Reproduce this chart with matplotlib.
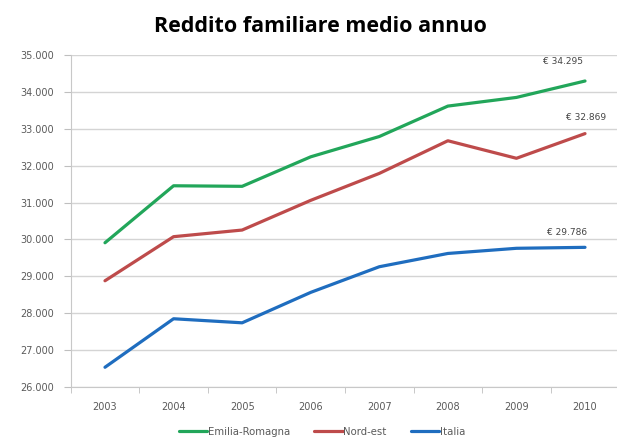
import matplotlib
matplotlib.use("Agg")
import matplotlib.pyplot as plt
from matplotlib.ticker import FuncFormatter, FixedLocator
import numpy as np

years = ["2003", "2004", "2005", "2006", "2007", "2008", "2009", "2010"]
emilia = [29910, 31455, 31440, 32240, 32790, 33615, 33850, 34295]
nordest = [28880, 30075, 30255, 31060, 31790, 32675, 32200, 32869]
italia = [26535, 27850, 27740, 28565, 29260, 29620, 29760, 29786]
series_names = ["Emilia-Romagna", "Nord-est", "Italia"]
colors = ["#22A65A", "#BE4B4B", "#1F6DBF"]
title = "Reddito familiare medio annuo"

fig = plt.figure(figsize=(6.17, 4.41), dpi=100)
ax = fig.add_axes([70.7/617, 54/441, 548.6/617, 332/441])

x = np.arange(len(years))
for vals, name, c in zip([emilia, nordest, italia], series_names, colors):
    ax.plot(x, vals, color=c, lw=2.3, label=name, solid_capstyle="round")

ax.set_xlim(-0.5, len(years) - 0.5)
ax.set_ylim(26000, 35000)
ax.set_yticks(np.arange(26000, 35001, 1000))
ax.yaxis.set_major_formatter(FuncFormatter(lambda v, p: f"{int(v):,}".replace(",", ".")))
ax.set_xticks(x)
ax.set_xticklabels(years)
ax.xaxis.set_minor_locator(FixedLocator(np.arange(-0.5, len(years), 1.0)))
ax.tick_params(axis="x", which="major", length=0, pad=11, labelsize=7, labelcolor="#5A5A5A")
ax.tick_params(axis="x", which="minor", length=4, color="#BFBFBF", direction="out")
ax.tick_params(axis="y", length=5, color="#BFBFBF", pad=7, labelsize=7, labelcolor="#5A5A5A")

ax.grid(axis="y", color="#D4D4D4", lw=1.0)
ax.set_axisbelow(True)
for s in ["top", "right"]:
    ax.spines[s].set_visible(False)
ax.spines["left"].set_color("#C8C8C8")
ax.spines["bottom"].set_color("#C8C8C8")

def fmt_eur(v):
    return "€ " + f"{v:,}".replace(",", ".")

ax.annotate(fmt_eur(emilia[-1]), (x[-1], emilia[-1]),
            xytext=(-16, 12), textcoords="offset points", fontsize=6.5, color="#444444", ha="center")
ax.annotate(fmt_eur(nordest[-1]), (x[-1], nordest[-1]),
            xytext=(1, 10), textcoords="offset points", fontsize=6.5, color="#444444", ha="center")
ax.annotate(fmt_eur(italia[-1]), (x[-1], italia[-1]),
            xytext=(-13, 9), textcoords="offset points", fontsize=6.5, color="#444444", ha="center")

fig.text(320/617, 1 - 27/441, title, ha="center", va="center", fontsize=15.5,
         fontweight="bold", family="Open Sans")

leg = fig.legend(loc="center", bbox_to_anchor=(322/617, 1 - 432/441), ncol=3, frameon=False,
                 fontsize=7.3, handlelength=2.8, handletextpad=0.05, columnspacing=2.4)
for t in leg.get_texts():
    t.set_color("#5A5A5A")

fig.savefig("out.png", dpi=100)
